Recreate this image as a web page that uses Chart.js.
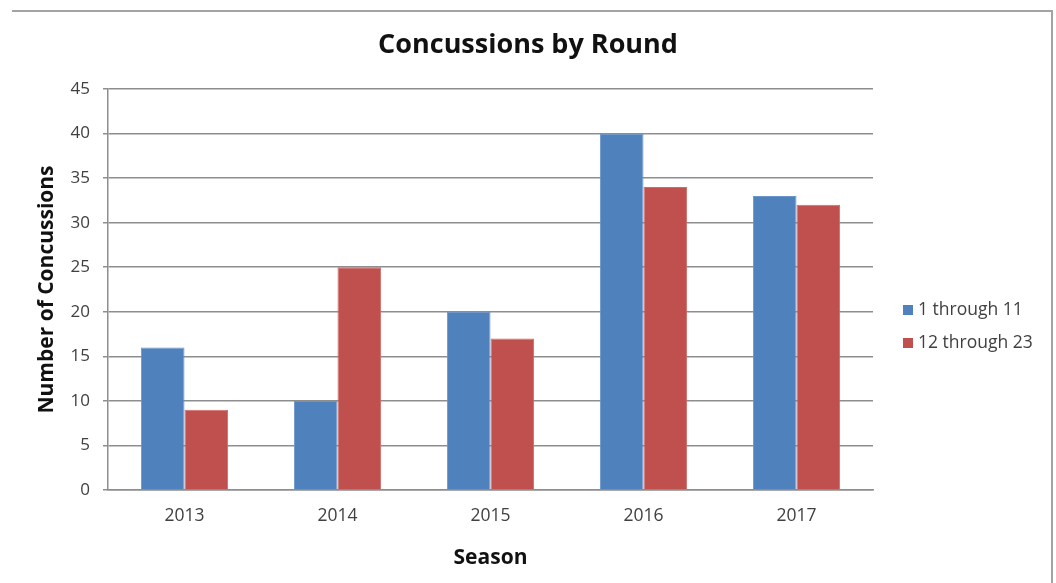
<!DOCTYPE html>
<html>
<head>
<meta charset="utf-8">
<script src="https://cdn.jsdelivr.net/npm/chart.js@4/dist/chart.umd.min.js"></script>
<style>
  html, body { margin: 0; padding: 0; background: #fff; }
  .wrap { position: relative; width: 1056px; height: 583px; overflow: hidden; }
  .frame {
    position: absolute; left: 12px; top: 10px; width: 1039px; height: 600px;
    border-top: 2px solid #a3a3a3; border-right: 2px solid #a3a3a3;
    pointer-events: none;
  }
</style>
</head>
<body>
<div class="wrap">
  <canvas id="myChart" width="1056" height="583"></canvas>
  <div class="frame"></div>
</div>
<script>
const seasons = ['2013', '2014', '2015', '2016', '2017'];
const roundsEarly = [16, 10, 20, 40, 33];   // 1 through 11
const roundsLate = [9, 25, 17, 34, 32];     // 12 through 23
const seriesNames = ['1 through 11', '12 through 23'];
const seriesColors = ['#4f81bd', '#c0504d'];
const yMax = 45;
const yStep = 5;

const FONT = "'Open Sans', 'DejaVu Sans', sans-serif";
const GRID = '#8e8e8e';
const TEXT = '#404040';

// legend at the right, drawn on the canvas
const sideLegend = {
  id: 'sideLegend',
  afterDraw(chart) {
    const { ctx } = chart;
    ctx.save();
    ctx.font = '17.5px ' + FONT;
    ctx.textBaseline = 'middle';
    ctx.textAlign = 'left';
    chart.data.datasets.forEach((ds, i) => {
      const y = 310 + i * 33;
      ctx.fillStyle = ds.backgroundColor;
      ctx.fillRect(903, y - 5, 10, 10);
      ctx.fillStyle = TEXT;
      ctx.fillText(ds.label, 918, y);
    });
    ctx.restore();
  },
};

const ctx = document.getElementById('myChart');
new Chart(ctx, {
  type: 'bar',
  data: {
    labels: seasons,
    datasets: [
      {
        label: seriesNames[0],
        data: roundsEarly,
        backgroundColor: seriesColors[0],
        borderColor: '#6a95c9',
        borderWidth: 1,
      },
      {
        label: seriesNames[1],
        data: roundsLate,
        backgroundColor: seriesColors[1],
        borderColor: '#cf6b68',
        borderWidth: 1,
      },
    ],
  },
  options: {
    responsive: false,
    animation: false,
    layout: { padding: 0 },
    datasets: {
      bar: { barPercentage: 1, categoryPercentage: 0.57 },
    },
    plugins: {
      legend: { display: false },
      tooltip: { enabled: false },
      title: {
        display: true,
        text: 'Concussions by Round',
        color: '#111',
        font: { family: FONT, size: 27, weight: 'bold' },
        padding: { top: 29, bottom: 27.6 },
      },
    },
    scales: {
      x: {
        grid: { display: false, drawTicks: false },
        border: { display: true, color: GRID, width: 1.5 },
        ticks: { color: TEXT, font: { family: FONT, size: 17.5 }, padding: 16 },
        title: {
          display: true,
          text: 'Season',
          color: '#111',
          font: { family: FONT, size: 21, weight: 'bold' },
          padding: { top: 0, bottom: 12 },
        },
        afterFit(scale) { scale.height = 93; },
      },
      y: {
        min: 0,
        max: yMax,
        ticks: {
          stepSize: yStep,
          color: TEXT,
          font: { family: FONT, size: 17 },
          padding: 13,
        },
        grid: { color: GRID, lineWidth: 1.5, tickLength: 5 },
        border: { display: true, color: GRID, width: 1.5 },
        title: {
          display: true,
          text: 'Number of Concussions',
          color: '#111',
          font: { family: FONT, size: 21, weight: 'bold' },
          padding: { top: 34, bottom: 0 },
        },
        afterFit(scale) { scale.width = 108; },
      },
      // empty right-hand box that reserves room for the legend
      side: {
        type: 'linear',
        position: 'right',
        grid: { display: false, drawTicks: false },
        border: { display: false },
        ticks: { display: false },
        afterFit(scale) { scale.width = 183; },
      },
    },
  },
  plugins: [sideLegend],
});
</script>
</body>
</html>
